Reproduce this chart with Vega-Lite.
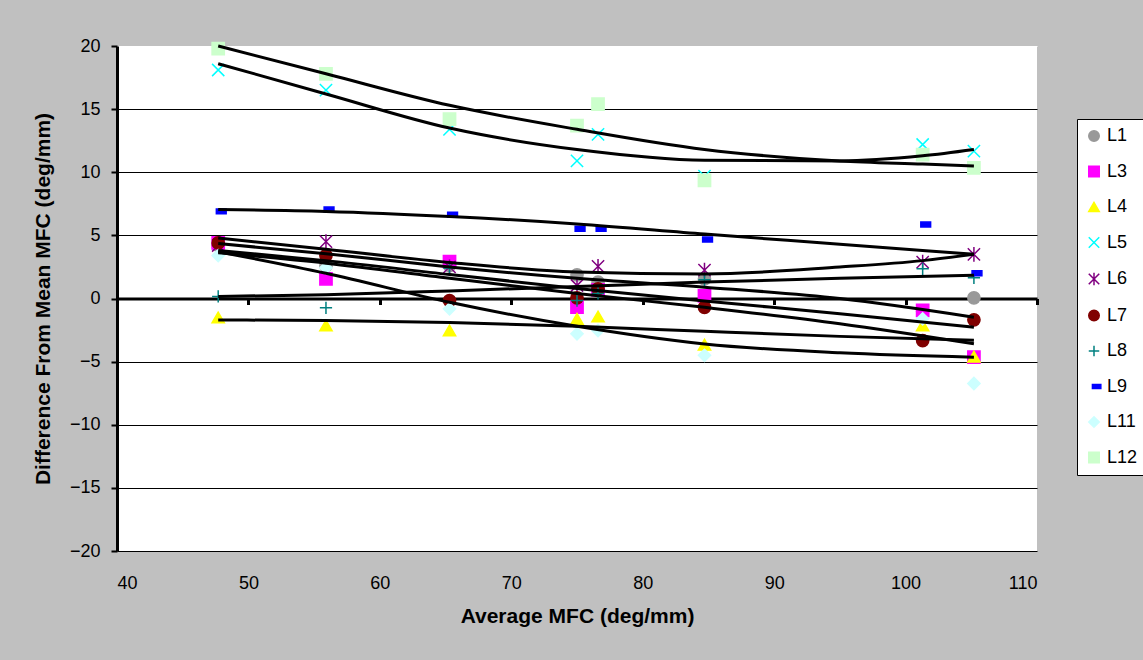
{
  "$schema": "https://vega.github.io/schema/vega-lite/v6.json",
  "width": 920,
  "height": 505,
  "autosize": "none",
  "padding": {"left": 117, "top": 46, "right": 106, "bottom": 109},
  "background": "#C0C0C0",
  "config": {
    "view": {"fill": "white", "stroke": null},
    "font": "Liberation Sans"
  },
  "datasets": {
    "pts": [
      {"x": 47.7, "y": 4.2, "s": "L1"}, {"x": 47.7, "y": 4.4, "s": "L3"}, {"x": 47.7, "y": -1.5, "s": "L4"}, {"x": 47.7, "y": 18.1, "s": "L5"}, {"x": 47.7, "y": 4.2, "s": "L6"}, {"x": 47.7, "y": 4.4, "s": "L7"}, {"x": 47.7, "y": 0.16, "s": "L8"}, {"x": 47.7, "y": 6.9, "s": "L9"}, {"x": 47.7, "y": 3.4, "s": "L11"}, {"x": 47.7, "y": 19.8, "s": "L12"},
      {"x": 55.9, "y": 2.6, "s": "L1"}, {"x": 55.9, "y": 1.56, "s": "L3"}, {"x": 55.9, "y": -2.14, "s": "L4"}, {"x": 55.9, "y": 16.5, "s": "L5"}, {"x": 55.9, "y": 4.5, "s": "L6"}, {"x": 55.9, "y": 3.4, "s": "L7"}, {"x": 55.9, "y": -0.74, "s": "L8"}, {"x": 55.9, "y": 7.05, "s": "L9"}, {"x": 55.9, "y": 2.43, "s": "L11"}, {"x": 55.9, "y": 17.8, "s": "L12"},
      {"x": 65.3, "y": 2.6, "s": "L1"}, {"x": 65.3, "y": 2.93, "s": "L3"}, {"x": 65.3, "y": -2.53, "s": "L4"}, {"x": 65.3, "y": 13.4, "s": "L5"}, {"x": 65.3, "y": 2.5, "s": "L6"}, {"x": 65.3, "y": -0.16, "s": "L7"}, {"x": 65.3, "y": 2.4, "s": "L8"}, {"x": 65.3, "y": 6.63, "s": "L9"}, {"x": 65.3, "y": -0.82, "s": "L11"}, {"x": 65.3, "y": 14.2, "s": "L12"},
      {"x": 75.0, "y": 1.88, "s": "L1"}, {"x": 75.0, "y": -0.69, "s": "L3"}, {"x": 75.0, "y": -1.61, "s": "L4"}, {"x": 75.0, "y": 10.9, "s": "L5"}, {"x": 75.0, "y": 1.03, "s": "L6"}, {"x": 75.0, "y": 0.05, "s": "L7"}, {"x": 75.0, "y": -0.16, "s": "L8"}, {"x": 75.0, "y": 5.52, "s": "L9"}, {"x": 75.0, "y": -2.8, "s": "L11"}, {"x": 75.0, "y": 13.7, "s": "L12"},
      {"x": 76.6, "y": 1.3, "s": "L1"}, {"x": 76.6, "y": 0.69, "s": "L3"}, {"x": 76.6, "y": -1.43, "s": "L4"}, {"x": 76.6, "y": 13.0, "s": "L5"}, {"x": 76.6, "y": 2.55, "s": "L6"}, {"x": 76.6, "y": 0.77, "s": "L7"}, {"x": 76.6, "y": 0.4, "s": "L8"}, {"x": 76.6, "y": 5.52, "s": "L9"}, {"x": 76.6, "y": -2.53, "s": "L11"}, {"x": 76.6, "y": 15.4, "s": "L12"},
      {"x": 84.7, "y": 1.55, "s": "L1"}, {"x": 84.7, "y": 0.2, "s": "L3"}, {"x": 84.7, "y": -3.65, "s": "L4"}, {"x": 84.7, "y": 9.7, "s": "L5"}, {"x": 84.7, "y": 2.25, "s": "L6"}, {"x": 84.7, "y": -0.7, "s": "L7"}, {"x": 84.7, "y": 1.48, "s": "L8"}, {"x": 84.7, "y": 4.67, "s": "L9"}, {"x": 84.7, "y": -4.5, "s": "L11"}, {"x": 84.7, "y": 9.35, "s": "L12"},
      {"x": 101.3, "y": -1.0, "s": "L1"}, {"x": 101.3, "y": -0.95, "s": "L3"}, {"x": 101.3, "y": -2.14, "s": "L4"}, {"x": 101.3, "y": 12.2, "s": "L5"}, {"x": 101.3, "y": 2.88, "s": "L6"}, {"x": 101.3, "y": -3.33, "s": "L7"}, {"x": 101.3, "y": 2.35, "s": "L8"}, {"x": 101.3, "y": 5.86, "s": "L9"}, {"x": 101.3, "y": -1.61, "s": "L11"}, {"x": 101.3, "y": 11.4, "s": "L12"},
      {"x": 105.2, "y": 0.05, "s": "L1"}, {"x": 105.2, "y": -4.65, "s": "L3"}, {"x": 105.2, "y": -4.6, "s": "L4"}, {"x": 105.2, "y": 11.67, "s": "L5"}, {"x": 105.2, "y": 3.49, "s": "L6"}, {"x": 105.2, "y": -1.69, "s": "L7"}, {"x": 105.2, "y": 1.64, "s": "L8"}, {"x": 105.2, "y": 2.0, "s": "L9"}, {"x": 105.2, "y": -6.73, "s": "L11"}, {"x": 105.2, "y": 10.35, "s": "L12"}
    ],
    "trend": [
      {"x": 47.7, "y": 20.0, "s": "L12"}, {"x": 55.9, "y": 17.8, "s": "L12"}, {"x": 65.3, "y": 15.3, "s": "L12"}, {"x": 75.0, "y": 13.4, "s": "L12"}, {"x": 84.7, "y": 11.8, "s": "L12"}, {"x": 95.0, "y": 10.9, "s": "L12"}, {"x": 101.3, "y": 10.65, "s": "L12"}, {"x": 105.2, "y": 10.5, "s": "L12"},
      {"x": 47.7, "y": 18.6, "s": "L5"}, {"x": 55.9, "y": 16.2, "s": "L5"}, {"x": 65.3, "y": 13.5, "s": "L5"}, {"x": 75.0, "y": 11.8, "s": "L5"}, {"x": 84.7, "y": 10.95, "s": "L5"}, {"x": 95.0, "y": 10.9, "s": "L5"}, {"x": 101.3, "y": 11.3, "s": "L5"}, {"x": 105.2, "y": 11.8, "s": "L5"},
      {"x": 47.7, "y": 7.05, "s": "L9"}, {"x": 55.9, "y": 6.9, "s": "L9"}, {"x": 65.3, "y": 6.5, "s": "L9"}, {"x": 75.0, "y": 5.9, "s": "L9"}, {"x": 84.7, "y": 5.1, "s": "L9"}, {"x": 95.0, "y": 4.3, "s": "L9"}, {"x": 105.2, "y": 3.5, "s": "L9"},
      {"x": 47.7, "y": 4.8, "s": "L6"}, {"x": 55.9, "y": 3.9, "s": "L6"}, {"x": 65.3, "y": 2.85, "s": "L6"}, {"x": 75.0, "y": 2.1, "s": "L6"}, {"x": 84.7, "y": 1.95, "s": "L6"}, {"x": 95.0, "y": 2.5, "s": "L6"}, {"x": 101.3, "y": 3.0, "s": "L6"}, {"x": 105.2, "y": 3.5, "s": "L6"},
      {"x": 47.7, "y": 0.16, "s": "L8"}, {"x": 55.9, "y": 0.3, "s": "L8"}, {"x": 65.3, "y": 0.6, "s": "L8"}, {"x": 75.0, "y": 0.95, "s": "L8"}, {"x": 84.7, "y": 1.3, "s": "L8"}, {"x": 95.0, "y": 1.6, "s": "L8"}, {"x": 105.2, "y": 1.85, "s": "L8"},
      {"x": 47.7, "y": -1.7, "s": "L4"}, {"x": 55.9, "y": -1.75, "s": "L4"}, {"x": 65.3, "y": -1.9, "s": "L4"}, {"x": 75.0, "y": -2.2, "s": "L4"}, {"x": 84.7, "y": -2.6, "s": "L4"}, {"x": 95.0, "y": -3.0, "s": "L4"}, {"x": 105.2, "y": -3.3, "s": "L4"},
      {"x": 47.7, "y": 3.7, "s": "L11"}, {"x": 55.9, "y": 2.0, "s": "L11"}, {"x": 65.3, "y": -0.3, "s": "L11"}, {"x": 75.0, "y": -2.2, "s": "L11"}, {"x": 84.7, "y": -3.6, "s": "L11"}, {"x": 95.0, "y": -4.3, "s": "L11"}, {"x": 105.2, "y": -4.65, "s": "L11"},
      {"x": 47.7, "y": 4.35, "s": "L7"}, {"x": 55.9, "y": 3.55, "s": "L7"}, {"x": 65.3, "y": 2.5, "s": "L7"}, {"x": 75.0, "y": 1.6, "s": "L7"}, {"x": 84.7, "y": 0.9, "s": "L7"}, {"x": 95.0, "y": 0.0, "s": "L7"}, {"x": 105.2, "y": -1.48, "s": "L7"},
      {"x": 47.7, "y": 3.8, "s": "L3"}, {"x": 55.9, "y": 3.0, "s": "L3"}, {"x": 65.3, "y": 1.9, "s": "L3"}, {"x": 75.0, "y": 0.8, "s": "L3"}, {"x": 84.7, "y": -0.2, "s": "L3"}, {"x": 95.0, "y": -1.2, "s": "L3"}, {"x": 105.2, "y": -2.27, "s": "L3"},
      {"x": 47.7, "y": 3.62, "s": "L1"}, {"x": 55.9, "y": 2.8, "s": "L1"}, {"x": 65.3, "y": 1.6, "s": "L1"}, {"x": 75.0, "y": 0.4, "s": "L1"}, {"x": 84.7, "y": -0.7, "s": "L1"}, {"x": 95.0, "y": -2.0, "s": "L1"}, {"x": 105.2, "y": -3.59, "s": "L1"}
    ]
  },
  "resolve": {"axis": {"x": "independent"}},
  "layer": [
    {
      "data": {"name": "pts"},
      "mark": {"type": "point", "filled": true, "size": 150, "strokeWidth": 1.5, "opacity": 1},
      "encoding": {
        "x": {
          "field": "x", "type": "quantitative",
          "scale": {"domain": [40, 110], "nice": false, "zero": false},
          "axis": {
            "values": [40, 50, 60, 70, 80, 90, 100, 110],
            "domain": false, "ticks": false, "grid": false,
            "labelFontSize": 18, "labelColor": "black", "labelPadding": 23,
            "labelFont": "Liberation Sans",
            "title": "Average MFC (deg/mm)", "titleFontSize": 21, "titleFontWeight": "bold",
            "titleColor": "black", "titlePadding": 13, "titleFont": "Liberation Sans"
          }
        },
        "y": {
          "field": "y", "type": "quantitative",
          "scale": {"domain": [-20, 20], "nice": false},
          "axis": {
            "values": [-20, -15, -10, -5, 0, 5, 10, 15, 20],
            "domain": true, "domainColor": "black", "domainWidth": 3,
            "ticks": true, "tickColor": "black", "tickSize": 6, "tickWidth": 2,
            "grid": true,
            "gridColor": {"condition": {"test": "datum.value === 20 || datum.value === 0", "value": "white"}, "value": "black"},
            "gridWidth": 1,
            "labelFontSize": 18, "labelColor": "black", "labelPadding": 11,
            "labelFont": "Liberation Sans",
            "title": "Difference From Mean MFC (deg/mm)", "titleFontSize": 21, "titleFontWeight": "bold",
            "titleColor": "black", "titlePadding": 16, "titleFont": "Liberation Sans"
          }
        },
        "shape": {
          "field": "s", "type": "nominal",
          "scale": {
            "domain": ["L1", "L3", "L4", "L5", "L6", "L7", "L8", "L9", "L11", "L12"],
            "range": ["circle", "square", "triangle-up", "M-1,-1L1,1M-1,1L1,-1", "M-1,-1L1,1M-1,1L1,-1M0,-1.2L0,1.2", "circle", "M-1,0L1,0M0,-1L0,1", "M-0.3,-0.4L1.3,-0.4L1.3,0.4L-0.3,0.4Z", "diamond", "square"]
          },
          "legend": {
            "orient": "none", "legendX": 960, "legendY": 73,
            "title": null, "fillColor": "white", "strokeColor": "black",
            "padding": 8, "rowPadding": 17.5, "labelFontSize": 18, "labelColor": "black",
            "labelFont": "Liberation Sans", "symbolSize": 110, "symbolStrokeWidth": 1.5,
            "labelOffset": 4, "symbolOffset": 0
          }
        },
        "fill": {
          "field": "s", "type": "nominal",
          "scale": {
            "domain": ["L1", "L3", "L4", "L5", "L6", "L7", "L8", "L9", "L11", "L12"],
            "range": ["#999999", "#FF00FF", "#FFFF00", "#00FFFF", "#800080", "#800000", "#008080", "#0000FF", "#CCFFFF", "#CCFFCC"]
          }
        },
        "stroke": {
          "field": "s", "type": "nominal",
          "scale": {
            "domain": ["L1", "L3", "L4", "L5", "L6", "L7", "L8", "L9", "L11", "L12"],
            "range": ["#999999", "#FF00FF", "#FFFF00", "#00FFFF", "#800080", "#800000", "#008080", "#0000FF", "#CCFFFF", "#CCFFCC"]
          }
        }
      }
    },
    {
      "data": {"name": "trend"},
      "mark": {"type": "line", "color": "black", "strokeWidth": 3, "interpolate": "monotone"},
      "encoding": {
        "x": {
          "field": "x", "type": "quantitative",
          "scale": {"domain": [40, 110], "nice": false, "zero": false},
          "axis": {
            "orient": "bottom", "offset": -252.5,
            "values": [40, 50, 60, 70, 80, 90, 100, 110],
            "domain": true, "domainColor": "black", "domainWidth": 3,
            "ticks": true, "tickColor": "black", "tickSize": 6, "tickWidth": 3,
            "labels": false, "grid": false, "title": null
          }
        },
        "y": {"field": "y", "type": "quantitative"},
        "detail": {"field": "s", "type": "nominal"}
      }
    }
  ]
}
